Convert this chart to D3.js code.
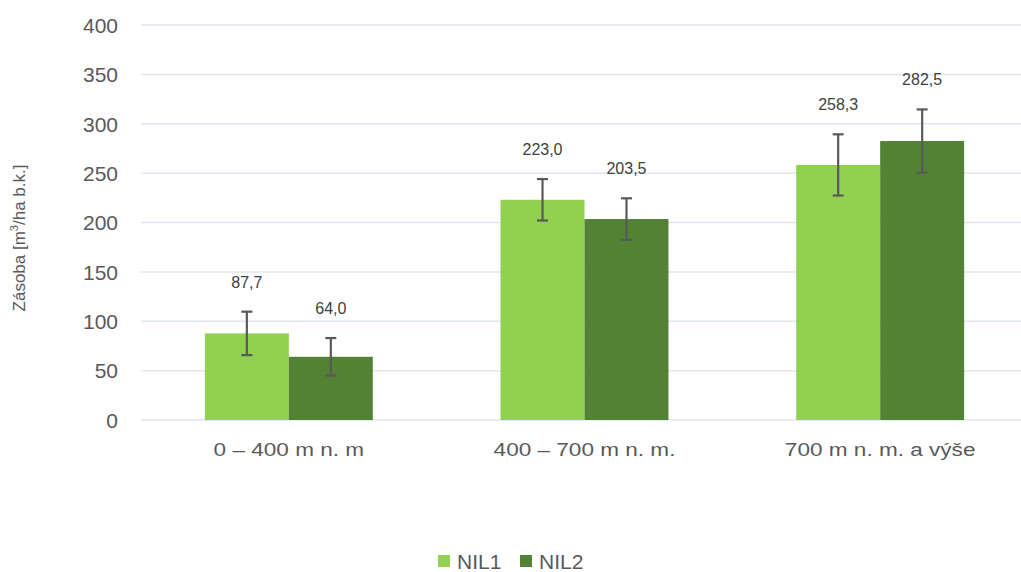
<!DOCTYPE html>
<html><head><meta charset="utf-8">
<script src="https://cdn.jsdelivr.net/npm/d3@7"></script>
<style>body{margin:0;background:#fff}svg{display:block}text{font-family:"Liberation Sans",Arial,sans-serif}</style>
</head><body>
<svg id="c" width="1021" height="572"></svg>
<script>
const categories = ["0 – 400 m n. m", "400 – 700 m n. m.", "700 m n. m. a výše"];
const seriesNames = ["NIL1", "NIL2"];
const nil1 = [87.7, 223.0, 258.3];
const nil2 = [64.0, 203.5, 282.5];
const nil1Err = [22, 21, 31];
const nil2Err = [19, 21, 32];
const yTicks = [0, 50, 100, 150, 200, 250, 300, 350, 400];
const colors = ["#92d050", "#548235"];

const svg = d3.select("#c");
const x0 = d3.scaleBand().domain(categories).range([141, 1028]).paddingInner(0).paddingOuter(0);
const y = d3.scaleLinear().domain([0, 400]).range([420, 25]);
const groupW = x0.bandwidth() * 0.568;
const x1 = d3.scaleBand().domain(seriesNames).range([0, groupW]);

// gridlines
svg.append("g").selectAll("line").data(yTicks).join("line")
  .attr("x1", 141).attr("x2", 1021)
  .attr("y1", d => y(d)).attr("y2", d => y(d))
  .attr("stroke", "#dfe5f1").attr("stroke-width", 1.5);

// y axis labels
const yAxis = d3.axisLeft(y).tickValues(yTicks).tickSize(0).tickPadding(0);
const ya = svg.append("g").attr("transform", "translate(118,0)").call(yAxis);
ya.select(".domain").remove();
ya.selectAll("text").attr("font-size", 21).attr("fill", "#595959").attr("font-family", "Liberation Sans, Arial, sans-serif").attr("dy", "0.35em");

// x axis labels
const xAxis = d3.axisBottom(x0).tickSize(0).tickPadding(0);
const xa = svg.append("g").attr("transform", "translate(0,450)").call(xAxis);
xa.select(".domain").remove();
xa.selectAll("text").attr("font-size", 18.5).attr("fill", "#595959").attr("font-family", "Liberation Sans, Arial, sans-serif")
  .attr("dy", "0.35em").attr("transform", "scale(1.22,1)");

const rows = categories.map((c, i) => ({c, vals: [
  {s: "NIL1", v: nil1[i], e: nil1Err[i], col: colors[0]},
  {s: "NIL2", v: nil2[i], e: nil2Err[i], col: colors[1]}]}));

const g = svg.append("g").selectAll("g").data(rows).join("g")
  .attr("transform", d => `translate(${x0(d.c) + (x0.bandwidth() - groupW) / 2},0)`);

g.selectAll("rect").data(d => d.vals).join("rect")
  .attr("x", d => x1(d.s)).attr("width", x1.bandwidth())
  .attr("y", d => y(d.v)).attr("height", d => y(0) - y(d.v))
  .attr("fill", d => d.col);

const eb = g.selectAll("g.eb").data(d => d.vals).join("g").attr("class", "eb")
  .attr("transform", d => `translate(${x1(d.s) + x1.bandwidth() / 2},0)`);
eb.append("line").attr("y1", d => y(d.v + d.e)).attr("y2", d => y(d.v - d.e))
  .attr("stroke", "#595959").attr("stroke-width", 2.2);
eb.append("line").attr("x1", -5.5).attr("x2", 5.5).attr("y1", d => y(d.v + d.e)).attr("y2", d => y(d.v + d.e))
  .attr("stroke", "#595959").attr("stroke-width", 2.2);
eb.append("line").attr("x1", -5.5).attr("x2", 5.5).attr("y1", d => y(d.v - d.e)).attr("y2", d => y(d.v - d.e))
  .attr("stroke", "#595959").attr("stroke-width", 2.2);

const fmt = v => v.toFixed(1).replace(".", ",");
g.selectAll("text.lbl").data(d => d.vals).join("text").attr("class", "lbl")
  .attr("x", d => x1(d.s) + x1.bandwidth() / 2)
  .attr("y", d => y(d.v + d.e) - 24)
  .attr("text-anchor", "middle").attr("font-size", 16).attr("fill", "#404040")
  .text(d => fmt(d.v));

// y title
const yt = svg.append("text").attr("transform", "translate(25,238) rotate(-90)")
  .attr("text-anchor", "middle").attr("font-size", 17).attr("fill", "#595959");
yt.append("tspan").text("Zásoba [m");
yt.append("tspan").attr("font-size", 11).attr("dy", -7).text("3");
yt.append("tspan").attr("dy", 7).text("/ha b.k.]");

// legend
const leg = svg.append("g").selectAll("g").data(seriesNames).join("g")
  .attr("transform", (d, i) => `translate(${438 + i * 82},555)`);
leg.append("rect").attr("width", 12).attr("height", 12).attr("fill", (d, i) => colors[i]);
leg.append("text").attr("x", 19).attr("y", 6).attr("dy", "0.36em").attr("font-size", 21)
  .attr("fill", "#595959").text(d => d);
</script>
</body></html>
